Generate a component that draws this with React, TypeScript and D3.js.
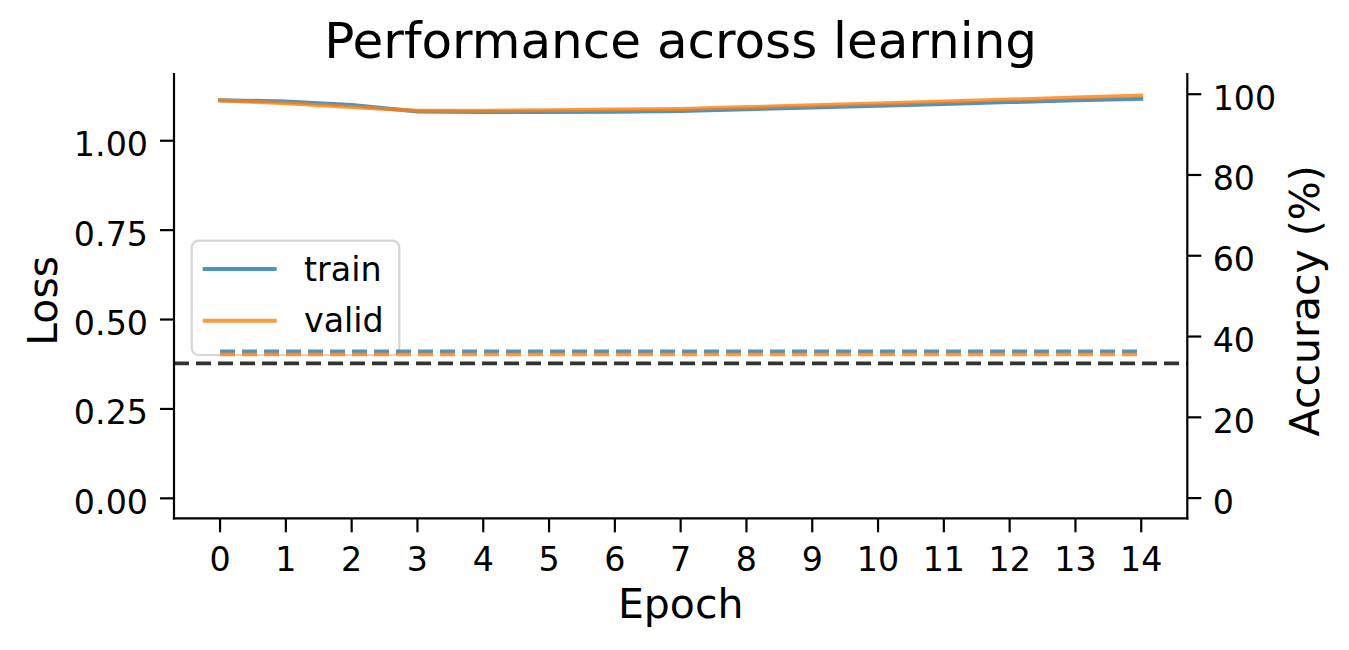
import React from "react";
import * as d3 from "d3";

// Epochs along the x axis.
const epochs = [0, 1, 2, 3, 4, 5, 6, 7, 8, 9, 10, 11, 12, 13, 14];

// Loss per epoch (left axis, solid lines).
const trainLoss = [1.113, 1.110, 1.100, 1.082, 1.080, 1.080, 1.081, 1.083, 1.088, 1.093, 1.098, 1.103, 1.108, 1.113, 1.117];
const validLoss = [1.113, 1.105, 1.094, 1.084, 1.084, 1.085, 1.087, 1.089, 1.094, 1.099, 1.104, 1.110, 1.115, 1.121, 1.126];

// Accuracy per epoch in % (right axis, dashed lines).
const trainAcc = [36.3, 36.3, 36.3, 36.3, 36.3, 36.3, 36.3, 36.3, 36.3, 36.3, 36.3, 36.3, 36.3, 36.3, 36.3];
const validAcc = [35.6, 35.6, 35.6, 35.6, 35.6, 35.6, 35.6, 35.6, 35.6, 35.6, 35.6, 35.6, 35.6, 35.6, 35.6];

// Chance level for three classes.
const chanceAcc = 100 / 3;

const lossTicks = [0, 0.25, 0.5, 0.75, 1.0];
const accTicks = [0, 20, 40, 60, 80, 100];

const seriesNames = ["train", "valid"];
const seriesColors = ["#1f77b4", "#ff7f0e"];

const WIDTH = 1349;
const HEIGHT = 650;
const FONT = "'DejaVu Sans', sans-serif";

const left = 174;
const right = 1187.3;
const top = 74;
const bottom = 518.3;

export default function App() {
    const x = d3.scaleLinear().domain([-0.7, 14.7]).range([left, right]);
    const yLoss = d3.scaleLinear().domain([-0.0558, 1.1866]).range([bottom, top]);
    const yAcc = d3.scaleLinear().domain([-5, 105]).range([bottom, top]);

    const lossLine = d3.line<number>().x((_, i) => x(epochs[i])).y((d) => yLoss(d));
    const accLine = d3.line<number>().x((_, i) => x(epochs[i])).y((d) => yAcc(d));

    const lossSeries = [trainLoss, validLoss];
    const accSeries = [trainAcc, validAcc];

    const tickLen = 14;
    const tickFont = 33.3;
    const labelFont = 41;

    // Legend box (upper-left-ish, as in the reference).
    const legX = 191.7;
    const legY = 240.7;
    const legW = 207.6;
    const legH = 114.3;
    const legRowY = [269, 320.7];

    return (
        <svg
            width={WIDTH}
            height={HEIGHT}
            style={{ position: "absolute", left: 0, top: 0, background: "#fff" }}
            fontFamily={FONT}
        >
            <rect x={0} y={0} width={WIDTH} height={HEIGHT} fill="#fff" />

            {/* Title */}
            <text x={(left + right) / 2} y={57.7} fontSize={50} textAnchor="middle" fill="#000">
                Performance across learning
            </text>

            {/* Loss lines */}
            {lossSeries.map((s, i) => (
                <path
                    key={`loss-${i}`}
                    d={lossLine(s) ?? ""}
                    fill="none"
                    stroke={seriesColors[i]}
                    strokeOpacity={0.8}
                    strokeWidth={4}
                    strokeLinejoin="round"
                    strokeLinecap="square"
                />
            ))}

            {/* Legend of ax1 (drawn below the twin axis) */}
            <rect
                x={legX}
                y={legY}
                width={legW}
                height={legH}
                rx={7}
                fill="#fff"
                fillOpacity={0.8}
                stroke="#cccccc"
                strokeOpacity={0.8}
                strokeWidth={2.2}
            />
            {seriesNames.map((name, i) => (
                <g key={name}>
                    <line
                        x1={202.7}
                        x2={276.7}
                        y1={legRowY[i]}
                        y2={legRowY[i]}
                        stroke={seriesColors[i]}
                        strokeOpacity={0.8}
                        strokeWidth={4}
                    />
                    <text x={304} y={legRowY[i] + 11.5} fontSize={tickFont} fill="#000">
                        {name}
                    </text>
                </g>
            ))}

            {/* Accuracy lines (twin axis) */}
            {accSeries.map((s, i) => (
                <path
                    key={`acc-${i}`}
                    d={accLine(s) ?? ""}
                    fill="none"
                    stroke={seriesColors[i]}
                    strokeOpacity={0.8}
                    strokeWidth={3.8}
                    strokeDasharray="15 7"
                />
            ))}

            {/* Chance line */}
            <line
                x1={left}
                x2={right}
                y1={yAcc(chanceAcc)}
                y2={yAcc(chanceAcc)}
                stroke="#000"
                strokeOpacity={0.8}
                strokeWidth={3.8}
                strokeDasharray="15 7"
            />

            {/* Spines */}
            <line x1={left} x2={left} y1={top} y2={bottom} stroke="#000" strokeWidth={2.2} strokeLinecap="square" />
            <line x1={right} x2={right} y1={top} y2={bottom} stroke="#000" strokeWidth={2.2} strokeLinecap="square" />
            <line x1={left} x2={right} y1={bottom} y2={bottom} stroke="#000" strokeWidth={2.2} strokeLinecap="square" />

            {/* X ticks */}
            {epochs.map((e) => (
                <g key={`xt-${e}`}>
                    <line x1={x(e)} x2={x(e)} y1={bottom} y2={bottom + tickLen} stroke="#000" strokeWidth={2.2} />
                    <text x={x(e)} y={571} fontSize={tickFont} textAnchor="middle" fill="#000">
                        {e}
                    </text>
                </g>
            ))}
            <text x={(left + right) / 2} y={617.5} fontSize={labelFont} textAnchor="middle" fill="#000">
                Epoch
            </text>

            {/* Left (loss) ticks */}
            {lossTicks.map((t) => (
                <g key={`yl-${t}`}>
                    <line x1={left - tickLen} x2={left} y1={yLoss(t)} y2={yLoss(t)} stroke="#000" strokeWidth={2.2} />
                    <text x={148} y={yLoss(t) + 15.5} fontSize={tickFont} textAnchor="end" fill="#000">
                        {t.toFixed(2)}
                    </text>
                </g>
            ))}
            <text
                transform={`translate(57, 300.8) rotate(-90)`}
                fontSize={labelFont}
                textAnchor="middle"
                fill="#000"
            >
                Loss
            </text>

            {/* Right (accuracy) ticks */}
            {accTicks.map((t) => (
                <g key={`yr-${t}`}>
                    <line x1={right} x2={right + tickLen} y1={yAcc(t)} y2={yAcc(t)} stroke="#000" strokeWidth={2.2} />
                    <text x={1212.7} y={yAcc(t) + 15.5} fontSize={tickFont} textAnchor="start" fill="#000">
                        {t}
                    </text>
                </g>
            ))}
            <text
                transform={`translate(1319, 300.8) rotate(-90)`}
                fontSize={labelFont}
                textAnchor="middle"
                fill="#000"
            >
                Accuracy (%)
            </text>
        </svg>
    );
}
